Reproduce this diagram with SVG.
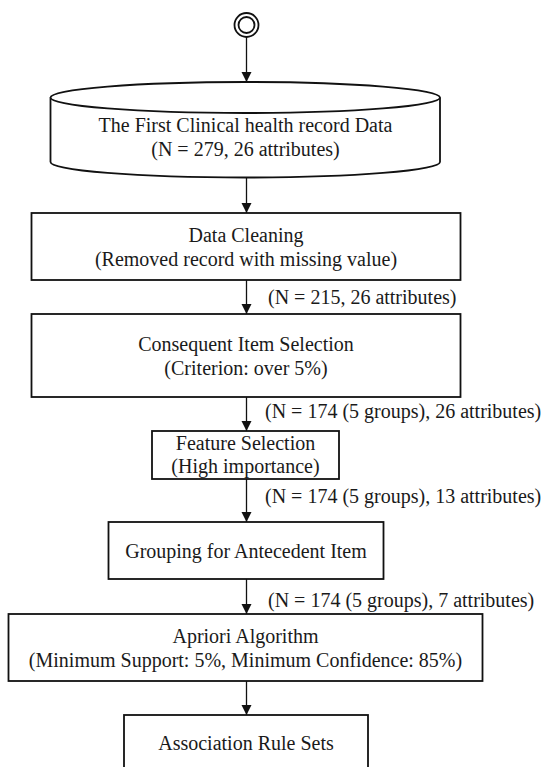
<svg xmlns="http://www.w3.org/2000/svg" width="548" height="767" viewBox="0 0 548 767">
<style>
.box{fill:#fff;stroke:#111;stroke-width:1.8}
.t{font-family:"Liberation Serif","Times New Roman",serif;font-size:20px;fill:#1a1a1a}
.c{text-anchor:middle}
.edge{stroke:#111;stroke-width:1.3;fill:none}
</style>
<defs>
<marker id="arr" markerUnits="userSpaceOnUse" markerWidth="12" markerHeight="12" refX="10" refY="5" orient="auto">
<path d="M0,0 L10,5 L0,10 Z" fill="#111"/>
</marker>
</defs>
<rect width="548" height="767" fill="#fff"/>
<g id="connectors">
<line class="edge" x1="246.5" y1="37" x2="246.5" y2="82" marker-end="url(#arr)"/>
<line class="edge" x1="246.5" y1="177.5" x2="246.5" y2="213" marker-end="url(#arr)"/>
<line class="edge" x1="246.5" y1="280" x2="246.5" y2="314" marker-end="url(#arr)"/>
<line class="edge" x1="246.5" y1="397" x2="246.5" y2="431" marker-end="url(#arr)"/>
<line class="edge" x1="246.5" y1="479" x2="246.5" y2="522" marker-end="url(#arr)"/>
<line class="edge" x1="246.5" y1="579" x2="246.5" y2="614" marker-end="url(#arr)"/>
<line class="edge" x1="246.5" y1="681" x2="246.5" y2="715" marker-end="url(#arr)"/>
<text class="t" x="268" y="304">(N = 215, 26 attributes)</text>
<text class="t" x="265" y="418">(N = 174 (5 groups), 26 attributes)</text>
<text class="t" x="265" y="503">(N = 174 (5 groups), 13 attributes)</text>
<text class="t" x="268" y="607">(N = 174 (5 groups), 7 attributes)</text>
</g>
<g id="start">
<circle cx="246.5" cy="25" r="12" fill="#fff" stroke="#111" stroke-width="1.8"/>
<circle cx="246.5" cy="25" r="8" fill="#fff" stroke="#111" stroke-width="1.8"/>
</g>
<g id="data">
<path class="box" d="M50.5,97.5 L50.5,162 A194.75,15.5 0 0 0 440,162 L440,97.5"/>
<ellipse class="box" cx="245.25" cy="97.5" rx="194.75" ry="15.5"/>
<text class="t c" x="245.5" y="132">The First Clinical health record Data</text>
<text class="t c" x="245.5" y="156">(N = 279, 26 attributes)</text>
</g>
<g id="cleaning">
<rect class="box" x="31.5" y="213" width="429" height="67"/>
<text class="t c" x="246" y="241.5">Data Cleaning</text>
<text class="t c" x="246" y="265.5">(Removed record with missing value)</text>
</g>
<g id="consequent">
<rect class="box" x="31.5" y="314" width="429" height="83"/>
<text class="t c" x="246" y="351">Consequent Item Selection</text>
<text class="t c" x="246" y="375">(Criterion: over 5%)</text>
</g>
<g id="feature">
<rect class="box" x="152" y="431" width="187" height="48"/>
<text class="t c" x="245.5" y="450">Feature Selection</text>
<text class="t c" x="245.5" y="473">(High importance)</text>
</g>
<g id="grouping">
<rect class="box" x="108.5" y="522" width="275" height="57"/>
<text class="t c" x="246" y="557.5">Grouping for Antecedent Item</text>
</g>
<g id="apriori">
<rect class="box" x="8.5" y="614" width="474" height="67"/>
<text class="t c" x="245.5" y="642.5">Apriori Algorithm</text>
<text class="t c" x="245.5" y="666.5">(Minimum Support: 5%, Minimum Confidence: 85%)</text>
</g>
<g id="rules">
<rect class="box" x="124" y="715" width="244" height="80"/>
<text class="t c" x="246" y="750">Association Rule Sets</text>
</g>
</svg>
